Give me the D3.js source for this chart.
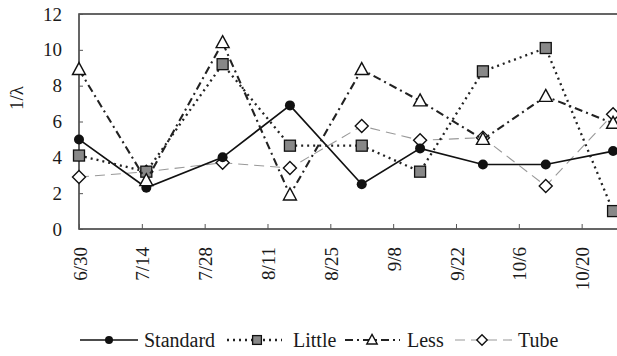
<!DOCTYPE html>
<html lang="en">
  <head>
    <meta charset="utf-8">
    <title>1/lambda by date</title>
    <style>
     body { margin: 0; background: #fff; }
     svg text { font-family: "Liberation Serif", "Times New Roman", serif; fill: #1a1a1a; }
    </style>
  </head>
  <body>
    <div id="plot"></div>
  </body>
  <script src="https://d3js.org/d3.v7.min.js"></script>
  <script>
   // sampling dates (month/day) and 1/lambda values
   var dates    = ["6/30", "7/15", "8/1", "8/16", "9/1", "9/14", "9/28", "10/12", "10/27"];
   var standard = [5.0, 2.3, 4.0, 6.9, 2.5, 4.5, 3.6, 3.6, 4.35];
   var little   = [4.1, 3.2, 9.2, 4.65, 4.65, 3.2, 8.8, 10.1, 1.0];
   var less     = [8.9, 2.7, 10.4, 1.9, 8.9, 7.15, 5.0, 7.4, 5.9];
   var tube     = [2.9, 3.2, 3.7, 3.4, 5.75, 4.95, 5.1, 2.4, 6.4];
   var tickDates = ["6/30", "7/14", "7/28", "8/11", "8/25", "9/8", "9/22", "10/6", "10/20"];
   var yTicks = [0, 2, 4, 6, 8, 10, 12];

   // note: "top" is reserved on window, so plot edges get a prefix
   var width = 617, height = 356,
       pLeft = 79, pRight = 620, pTop = 14, pBottom = 229;

   var parseMD = function(s) {
     var p = s.split("/");
     return new Date(Date.UTC(2005, +p[0] - 1, +p[1]));
   };

   var x0 = parseMD("6/30");
   var x1 = new Date(x0.getTime() + (pRight - pLeft) / 4.488 * 864e5);
   var xscale = d3.scaleUtc().domain([x0, x1]).range([pLeft, pRight]);
   var yscale = d3.scaleLinear().domain([0, 12]).range([pBottom, pTop]);

   var svg = d3.select("#plot").append("svg")
               .attr("width", width).attr("height", height);

   // frame
   svg.append("rect")
      .attr("x", pLeft).attr("y", pTop)
      .attr("width", pRight - pLeft).attr("height", pBottom - pTop)
      .attr("fill", "none").attr("stroke", "#333").attr("stroke-width", 1.5);

   // y axis, ticks inside
   var yAxis = svg.append("g")
                  .attr("transform", "translate(" + pLeft + ",0)")
                  .call(d3.axisRight(yscale).tickValues(yTicks).tickSize(4).tickFormat(""));
   yAxis.select(".domain").remove();
   yAxis.selectAll("line").attr("stroke", "#555");
   svg.selectAll(".ylab").data(yTicks).enter().append("text")
      .attr("class", "ylab")
      .attr("x", pLeft - 17)
      .attr("y", function(d) { return yscale(d); })
      .attr("dy", "0.35em")
      .attr("text-anchor", "end")
      .style("font-size", "19px")
      .text(function(d) { return d; });

   // x axis, ticks inside, rotated labels
   var xAxis = svg.append("g")
                  .attr("transform", "translate(0," + pBottom + ")")
                  .call(d3.axisTop(xscale).tickValues(tickDates.map(parseMD)).tickSize(5).tickFormat(""));
   xAxis.select(".domain").remove();
   xAxis.selectAll("line").attr("stroke", "#555");
   svg.selectAll(".xlab").data(tickDates).enter().append("text")
      .attr("class", "xlab")
      .attr("transform", function(d) {
        return "translate(" + (xscale(parseMD(d)) + 1) + "," + (pBottom + 18) + ") rotate(-90)";
      })
      .attr("dy", "0.35em")
      .attr("text-anchor", "end")
      .style("font-size", "19px")
      .text(function(d) { return d; });

   // y label
   svg.append("text")
      .attr("transform", "translate(16,98) rotate(-90)")
      .attr("dy", "0.35em")
      .attr("text-anchor", "middle")
      .style("font-size", "19px")
      .text("1/λ");

   var tri = "M0,-7L6.5,5L-6.5,5Z",
       dia = "M0,-6.5L6.5,0L0,6.5L-6.5,0Z";
   var series = [
     {name: "Standard", values: standard, stroke: "#111", width: 1.7, dash: null,
      marker: "circle", fill: "#111"},
     {name: "Little", values: little, stroke: "#222", width: 2.3, dash: "2,4",
      marker: "square", fill: "#888"},
     {name: "Less", values: less, stroke: "#222", width: 2.1, dash: "8,4,2,4",
      marker: tri, fill: "#fff"},
     {name: "Tube", values: tube, stroke: "#999", width: 1.1, dash: "10,6",
      marker: dia, fill: "#fff"}
   ];
   // stacking order of the marks in the figure (Tube underneath)
   var drawOrder = [3, 0, 1, 2];

   var line = d3.line()
                .x(function(d, i) { return xscale(parseMD(dates[i])); })
                .y(function(d) { return yscale(d); });

   var drawMarker = function(g, s, px, py, k) {
     if (s.marker === "circle") {
       g.append("circle").attr("cx", px).attr("cy", py).attr("r", 5 * k)
        .attr("fill", s.fill);
     } else if (s.marker === "square") {
       g.append("rect").attr("x", px - 5.5 * k).attr("y", py - 5.5 * k)
        .attr("width", 11 * k).attr("height", 11 * k)
        .attr("fill", s.fill).attr("stroke", "#111").attr("stroke-width", 1.3);
     } else {
       g.append("path").attr("d", s.marker)
        .attr("transform", "translate(" + px + "," + py + ") scale(" + k + ")")
        .attr("fill", s.fill).attr("stroke", "#111").attr("stroke-width", 1.4 / k);
     }
   };

   drawOrder.forEach(function(j) {
     var s = series[j], g = svg.append("g");
     g.append("path")
      .attr("d", line(s.values))
      .attr("fill", "none")
      .attr("stroke", s.stroke)
      .attr("stroke-width", s.width)
      .attr("stroke-dasharray", s.dash);
     s.values.forEach(function(v, i) {
       drawMarker(g, s, xscale(parseMD(dates[i])), yscale(v), 1);
     });
   });

   // legend
   var legendY = 340;
   var legendPos = [[80, 138, 109, 144], [227, 282, 257, 293], [345, 400, 372, 407], [455, 512, 482, 518]];
   series.forEach(function(s, i) {
     var p = legendPos[i], g = svg.append("g");
     g.append("line")
      .attr("x1", p[0]).attr("x2", p[1]).attr("y1", legendY).attr("y2", legendY)
      .attr("stroke", s.stroke).attr("stroke-width", s.width)
      .attr("stroke-dasharray", s.dash);
     drawMarker(g, s, p[2], legendY, 0.8);
     g.append("text")
      .attr("x", p[3]).attr("y", legendY)
      .attr("dy", "0.35em")
      .style("font-size", "20px")
      .text(s.name);
   });
  </script>
</html>
